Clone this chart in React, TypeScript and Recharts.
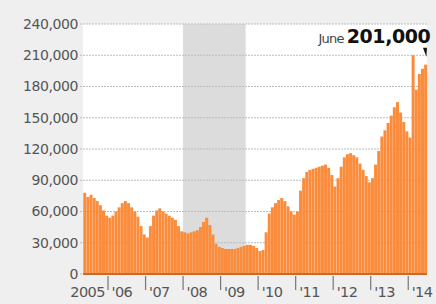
import React from "react";
import {
  BarChart,
  Bar,
  XAxis,
  YAxis,
  CartesianGrid,
  ReferenceArea,
  ReferenceDot,
} from "recharts";

// Monthly values, May 2005 – June 2014
const values2005: number[] = [78000, 74000, 76000, 73000, 70000, 66000, 61000, 56000];
const values2006: number[] = [54000, 56000, 60000, 64000, 68000, 70000, 68000, 64000, 60000, 55000, 46000, 38000];
const values2007: number[] = [35000, 46000, 56000, 61000, 63000, 60000, 58000, 56000, 54000, 52000, 46000, 41000];
const values2008: number[] = [40000, 39000, 40000, 41000, 42000, 45000, 50000, 54000, 47000, 38000, 29000, 26000];
const values2009: number[] = [25000, 24000, 24000, 24000, 24000, 25000, 26000, 27000, 28000, 28000, 27000, 25000];
const values2010: number[] = [22000, 23000, 40000, 58000, 64000, 68000, 71000, 73000, 70000, 65000, 60000, 57000];
const values2011: number[] = [60000, 80000, 92000, 98000, 100000, 101000, 102000, 103000, 104000, 105000, 102000, 95000];
const values2012: number[] = [84000, 92000, 103000, 112000, 115000, 116000, 114000, 112000, 106000, 100000, 94000, 88000];
const values2013: number[] = [92000, 105000, 118000, 132000, 138000, 145000, 152000, 160000, 165000, 155000, 146000, 137000];
const values2014: number[] = [131000, 210000, 177000, 192000, 197000, 201000];

const yearBlocks: { year: number; startMonth: number; values: number[] }[] = [
  { year: 2005, startMonth: 5, values: values2005 },
  { year: 2006, startMonth: 1, values: values2006 },
  { year: 2007, startMonth: 1, values: values2007 },
  { year: 2008, startMonth: 1, values: values2008 },
  { year: 2009, startMonth: 1, values: values2009 },
  { year: 2010, startMonth: 1, values: values2010 },
  { year: 2011, startMonth: 1, values: values2011 },
  { year: 2012, startMonth: 1, values: values2012 },
  { year: 2013, startMonth: 1, values: values2013 },
  { year: 2014, startMonth: 1, values: values2014 },
];

const xTicks: string[] = ["2005-05", "2006-01", "2007-01", "2008-01", "2009-01", "2010-01", "2011-01", "2012-01", "2013-01", "2014-01"];
const xTickLabels: string[] = ["2005", "'06", "'07", "'08", "'09", "'10", "'11", "'12", "'13", "'14"];
const yTicks: number[] = [0, 30000, 60000, 90000, 120000, 150000, 180000, 210000, 240000];
const recessionStart = "2008-01";
const recessionEnd = "2009-08";
const annotMonth = "2014-06";
const annotValue = 201000;
const annotLabel = "June";
const annotText = "201,000";

const pad = (n: number) => (n < 10 ? "0" + n : "" + n);
const data = yearBlocks.flatMap((b) =>
  b.values.map((v, i) => ({ m: `${b.year}-${pad(b.startMonth + i)}`, v }))
);

const FONT = "'DejaVu Sans', 'Open Sans', sans-serif";

const XTick = (props: any) => {
  const { x, y, payload } = props;
  const idx = xTicks.indexOf(payload.value);
  const label = xTickLabels[idx];
  if (idx === 0) {
    return (
      <text x={x + 3} y={y + 15} textAnchor="middle" fontSize={14.5} fill="#555" fontFamily={FONT} letterSpacing={-0.6}>
        {label}
      </text>
    );
  }
  const bx = x - 1.56;
  return (
    <g>
      <line x1={bx} x2={bx} y1={y - 6} y2={y + 8} stroke="#777" strokeWidth={1.2} />
      <text x={bx + 3.5} y={y + 15} textAnchor="start" fontSize={14.5} fill="#555" fontFamily={FONT} letterSpacing={-0.6}>
        {label}
      </text>
    </g>
  );
};

const AnnotShape = (props: any) => {
  const { cx, cy } = props;
  return (
    <g>
      <polygon
        points={`${cx - 2.5},${cy - 17} ${cx + 1.5},${cy - 17} ${cx + 1},${cy - 8}`}
        fill="#111"
      />
      <text x={cx + 5} y={cy - 22} textAnchor="end" fontFamily={FONT}>
        <tspan fontSize={13} fill="#444" letterSpacing={-0.8}>{annotLabel}</tspan>
        <tspan fontSize={19} fontWeight={700} fill="#111" letterSpacing={-0.4} dx={3}>{annotText}</tspan>
      </text>
    </g>
  );
};

export default function App() {
  return (
    <div
      style={{
        position: "absolute",
        left: 0,
        top: 0,
        width: 436,
        height: 304,
        background: "#efefef",
        fontFamily: FONT,
      }}
    >
      <BarChart
        width={436}
        height={304}
        data={data}
        margin={{ top: 24, right: 9, left: 0, bottom: 0 }}
        barCategoryGap={0.25}
      >
        <ReferenceArea
          x1={data[0].m}
          x2={data[data.length - 1].m}
          y1={0}
          y2={240000}
          fill="#ffffff"
          fillOpacity={1}
          stroke="none"
          zIndex={-200}
        />
        <ReferenceArea
          x1={recessionStart}
          x2={recessionEnd}
          y1={0}
          y2={240000}
          fill="#dcdcdc"
          fillOpacity={1}
          stroke="none"
          ifOverflow="visible"
          zIndex={-150}
        />
        <CartesianGrid
          vertical={false}
          stroke="#bdbdbd"
          strokeDasharray="2 1"
          fill="none"
        />
        <XAxis
          dataKey="m"
          ticks={xTicks}
          interval={0}
          height={30}
          tickLine={false}
          axisLine={{ stroke: "#c9692a", strokeWidth: 2 }}
          tick={<XTick />}
        />
        <YAxis
          width={83}
          domain={[0, 240000]}
          ticks={yTicks}
          interval={0}
          axisLine={false}
          tickSize={3}
          tickMargin={2}
          tickLine={{ stroke: "#bdbdbd", strokeDasharray: "2 1" }}
          tickFormatter={(v: number) => v.toLocaleString("en-US")}
          tick={{ fontSize: 14, fill: "#555", fontFamily: FONT, letterSpacing: -0.4 }}
        />
        <Bar dataKey="v" fill="#fa8c3c" isAnimationActive={false} />
        <ReferenceDot
          x={annotMonth}
          y={annotValue}
          r={0}
          ifOverflow="visible"
          shape={<AnnotShape />}
        />
      </BarChart>
    </div>
  );
}
